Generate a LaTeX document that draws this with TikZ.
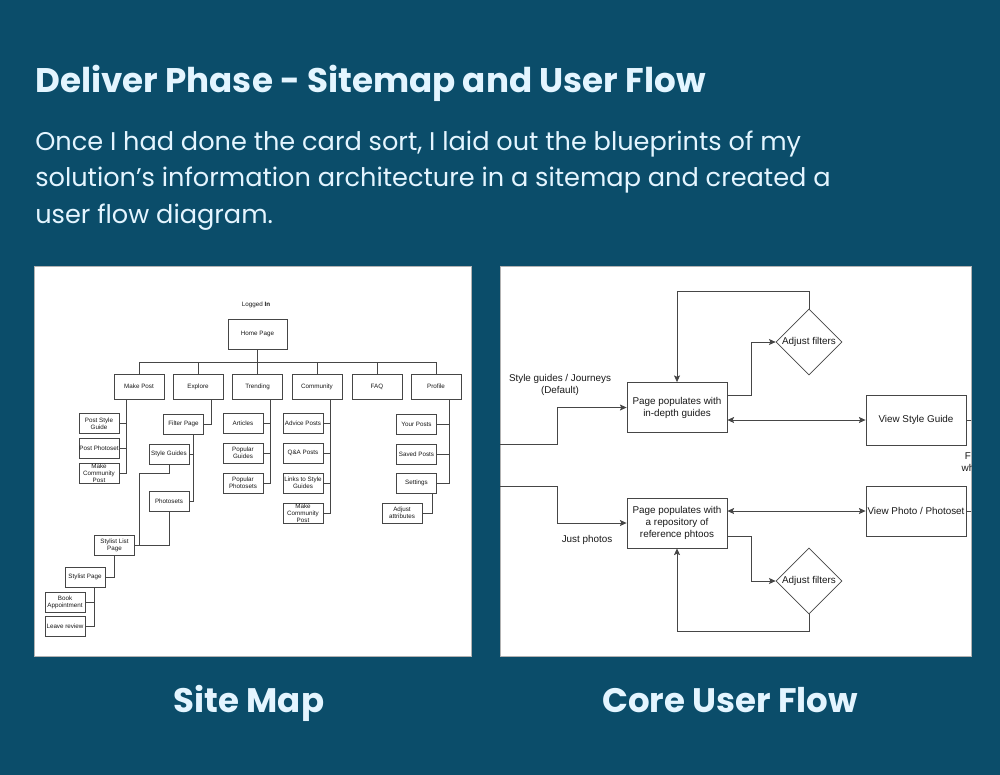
\documentclass[tikz,border=0pt]{standalone}
\usepackage{fontspec}
\setmainfont{Poppins}
\newfontfamily\diagfont{Liberation Sans}
\usepackage{tikz}
\usetikzlibrary{shapes.geometric,arrows.meta,calc}
\definecolor{bgblue}{RGB}{11,77,106}
\definecolor{headcol}{RGB}{228,245,255}
\definecolor{linecol}{RGB}{70,70,70}
\definecolor{inkcol}{RGB}{25,25,25}

\begin{document}
\begin{tikzpicture}[x=0.75pt,y=-0.75pt,
    para/.style={anchor=base west,inner sep=0pt,text=headcol,font=\fontsize{19.2}{23}\selectfont},
    caption/.style={anchor=base,inner sep=0pt,text=headcol,font=\bfseries\fontsize{25.5}{30}\selectfont},
    panel/.style={fill=white,draw=black!30,line width=0.5pt},
    smtext/.style={inner sep=0pt,text=inkcol,align=center,font=\diagfont\fontsize{4.7}{5.3}\selectfont},
    smbox/.style={smtext,rectangle,draw=linecol,line width=0.4pt,fill=white,minimum width=30pt,minimum height=15pt},
    topbox/.style={smbox,minimum width=37.5pt,minimum height=18.75pt},
    smline/.style={draw=linecol,line width=0.4pt},
    flowtext/.style={inner sep=0pt,text=inkcol,align=center,font=\diagfont\fontsize{7.4}{9}\selectfont},
    flowbox/.style={flowtext,rectangle,draw=linecol,line width=0.6pt,minimum width=75pt,minimum height=37.5pt},
    flowdia/.style={flowtext,diamond,aspect=1,draw=linecol,line width=0.5pt,minimum size=49.5pt},
    flowline/.style={draw=linecol,line width=0.6pt},
    flowarrow/.style={flowline,-{Stealth[length=5pt,width=4.5pt,inset=1pt]}},
    dblarrow/.style={flowline,{Stealth[length=5pt,width=4.5pt,inset=1pt]}-{Stealth[length=5pt,width=4.5pt,inset=1pt]}}]
  \useasboundingbox (0,0) rectangle (1000,775);
  \fill[bgblue] (0,0) rectangle (1000,775);

  \node[anchor=base west,inner sep=0pt,text=headcol,font=\bfseries\fontsize{25.6}{30}\selectfont] (title) at (35,92) {Deliver Phase - Sitemap and User Flow};
  \node[para] (line1) at (35,150) {Once I had done the card sort, I laid out the blueprints of my};
  \node[para] (line2) at (35,186.5) {solution’s information architecture in a sitemap and created a};
  \node[para] (line3) at (35,223) {user flow diagram.};

  \draw[panel] (34,266) rectangle (471,656);
  \draw[panel] (500,266) rectangle (971,656);
  \node[caption] (smcap) at (249,712) {Site Map};
  \node[caption] (ufcap) at (730,712) {Core User Flow};

  % site map
  \node[smtext] (logged) at (256,305) {Logged \textbf{In}};
  \node[smbox,minimum width=44.25pt,minimum height=22.5pt] (home) at (257.5,334) {Home Page};
  \foreach \name/\x/\txt in {makepost/139/Make Post,explore/198/Explore,trending/257.5/Trending,
      community/317/Community,faq/377/FAQ,profile/436/Profile}
    \node[topbox] (\name) at (\x,386.5) {\txt};
  \node[smbox] (poststyle) at (99,423.5) {Post Style\\Guide};
  \node[smbox] (postphoto) at (99,448) {Post Photoset};
  \node[smbox] (postcomm) at (99,473) {Make\\Community\\Post};
  \node[smbox] (filter) at (183.5,424) {Filter Page};
  \node[smbox] (styleguides) at (169,454) {Style Guides};
  \node[smbox] (photosets) at (169,501) {Photosets};
  \node[smbox] (stylistlist) at (114.5,545) {Stylist List\\Page};
  \node[smbox] (stylistpage) at (85,577) {Stylist Page};
  \node[smbox] (book) at (65,602) {Book\\Appointment};
  \node[smbox] (leave) at (65,626.5) {Leave review};
  \node[smbox] (articles) at (243,423) {Articles};
  \node[smbox] (popguides) at (243,453) {Popular\\Guides};
  \node[smbox] (popphotos) at (243,483) {Popular\\Photosets};
  \node[smbox] (advice) at (303,423) {Advice Posts};
  \node[smbox] (qa) at (303,453) {Q\&A Posts};
  \node[smbox] (links) at (303,483) {Links to Style\\Guides};
  \node[smbox] (commpost) at (303,513) {Make\\Community\\Post};
  \node[smbox] (yourposts) at (416.5,424) {Your Posts};
  \node[smbox] (savedposts) at (416.5,454) {Saved Posts};
  \node[smbox] (settings) at (416.5,483) {Settings};
  \node[smbox] (adjattr) at (402,513) {Adjust\\attributes};

  \foreach \n in {makepost,explore,trending,community,faq,profile}
    \draw[smline] (home.south) -- ++(0,13) -| (\n.north);
  \foreach \n in {poststyle,postphoto,postcomm}
    \draw[smline] ($(makepost.south)+(-13,0)$) |- (\n.east);
  \draw[smline] ($(explore.south)+(13,0)$) |- (filter.east);
  \foreach \n in {styleguides,photosets}
    \draw[smline] ($(filter.south)+(9.5,0)$) |- (\n.east);
  \draw[smline] (styleguides.south) |- ++(-30,9) |- (stylistlist.east);
  \draw[smline] (photosets.south) |- (stylistlist.east);
  \draw[smline] (stylistlist.south) |- (stylistpage.east);
  \foreach \n in {book,leave}
    \draw[smline] ($(stylistpage.south)+(9,0)$) |- (\n.east);
  \foreach \n in {articles,popguides,popphotos}
    \draw[smline] ($(trending.south)+(12.5,0)$) |- (\n.east);
  \foreach \n in {advice,qa,links,commpost}
    \draw[smline] ($(community.south)+(13,0)$) |- (\n.east);
  \foreach \n in {yourposts,savedposts,settings}
    \draw[smline] ($(profile.south)+(13,0)$) |- (\n.east);
  \draw[smline] ($(settings.south)+(15.5,0)$) |- (adjattr.east);

  % user flow
  \begin{scope}
    \clip (500,266) rectangle (971,656);
    \coordinate (sgin) at (495,444);
    \coordinate (phin) at (495,486);
    \coordinate (exit1) at (990,420);
    \coordinate (exit2) at (990,511);
    \node[flowbox] (guides) at (677,407.5) {Page populates with\\in-depth guides};
    \node[flowbox] (photos) at (677,523) {Page populates with\\a repository of\\reference phtoos};
    \node[flowdia] (filt1) at (809,342) {Adjust filters};
    \node[flowdia] (filt2) at (809,581) {Adjust filters};
    \node[flowbox] (viewguide) at (916,420) {View Style Guide};
    \node[flowbox] (viewphoto) at (916,511) {View Photo / Photoset};
    \node[flowtext] (sglabel) at (560,385) {Style guides / Journeys\\(Default)};
    \node[flowtext] (jplabel) at (587,540) {Just photos};
    \node[flowtext] (cut) at (968,462) {F\\wh};

    \draw[flowarrow] (sgin) -- ++(62,0) |- (guides.west);
    \draw[flowarrow] (phin) -- ++(62,0) |- (photos.west);
    \draw[flowarrow] ($(guides.east)+(0,-12.5)$) -- ++(24,0) |- (filt1.west);
    \draw[flowarrow] (filt1.north) -- ++(0,-17) -| (guides.north);
    \draw[dblarrow] (guides.east |- viewguide.west) -- (viewguide.west);
    \draw[dblarrow] (photos.east |- viewphoto.west) -- (viewphoto.west);
    \draw[flowarrow] ($(photos.east)+(0,13)$) -- ++(24,0) |- (filt2.west);
    \draw[flowarrow] (filt2.south) -- ++(0,17) -| (photos.south);
    \draw[flowline] (viewguide.east) -- (exit1);
    \draw[flowline] (viewphoto.east) -- (exit2);
  \end{scope}
\end{tikzpicture}
\end{document}
